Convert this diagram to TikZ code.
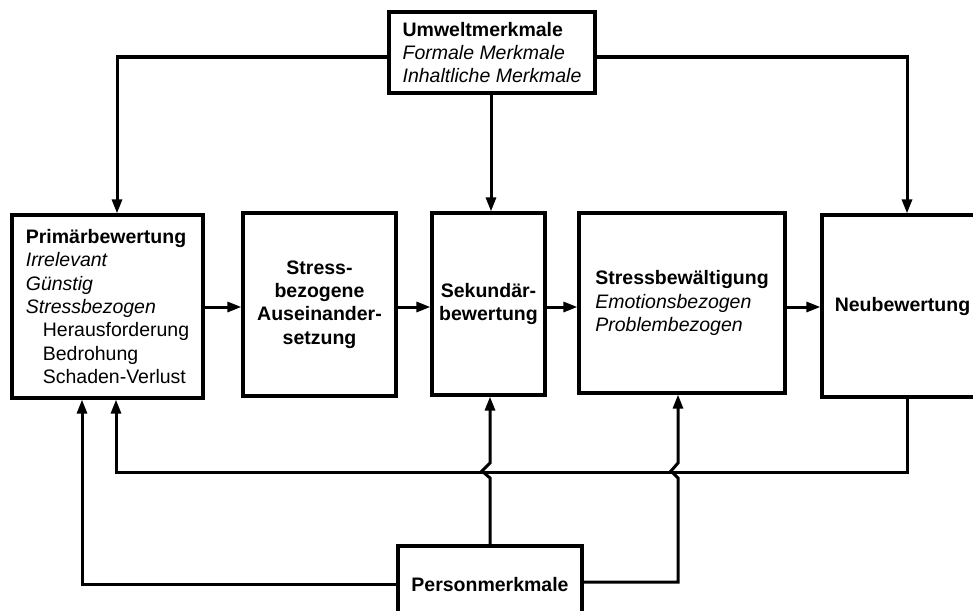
\documentclass[tikz,border=0pt]{standalone}
\usepackage{fontspec}
\setmainfont{Liberation Sans}
\usetikzlibrary{arrows.meta}
\begin{document}
\begin{tikzpicture}[x=1pt,y=-1pt,
  blk/.style={draw, line width=3.2pt, inner sep=0pt, align=left,
    font=\fontsize{19.5}{23.3}\selectfont},
  cblk/.style={blk, align=center},
  arr/.style={line width=3pt, -{Triangle[length=14pt,width=10pt]}}]
  \useasboundingbox (0,0) rectangle (973,610);
  \fill[white] (0,0) rectangle (973,610);
  \clip (0,0) rectangle (973,610);

  % boxes
  \node[blk, minimum width=206, minimum height=81] (umwelt) at (492,52.5)
    {\textbf{Umweltmerkmale}\\\textit{Formale Merkmale}\\\textit{Inhaltliche Merkmale}};
  \node[blk, minimum width=191, minimum height=183] (primaer) at (107.5,306.5)
    {\textbf{Primärbewertung}\\\textit{Irrelevant}\\\textit{Günstig}\\\textit{Stressbezogen}\\
     \hspace*{17pt}Herausforderung\\\hspace*{17pt}Bedrohung\\\hspace*{17pt}Schaden-Verlust};
  \node[cblk, minimum width=153, minimum height=183] (stress) at (319.5,304.5)
    {\textbf{Stress-}\\\textbf{bezogene}\\\textbf{Auseinander-}\\\textbf{setzung}};
  \node[cblk, minimum width=113, minimum height=182] (sekundaer) at (488.5,304)
    {\textbf{Sekundär-}\\\textbf{bewertung}};
  \node[blk, minimum width=206, minimum height=180] (bewaelt) at (682,303)
    {\textbf{Stressbewältigung}\\\textit{Emotionsbezogen}\\\textit{Problembezogen}};
  \node[cblk, minimum width=161, minimum height=182] (neu) at (902.5,306)
    {\textbf{Neubewertung}};
  \node[cblk, minimum width=184, minimum height=78] (person) at (490,585)
    {\textbf{Personmerkmale}};

  % main chain
  \draw[arr] (primaer.east |- 0,307) -- (stress.west |- 0,307);
  \draw[arr] (stress.east |- 0,307) -- (sekundaer.west |- 0,307);
  \draw[arr] (sekundaer.east |- 0,307) -- (bewaelt.west |- 0,307);
  \draw[arr] (bewaelt.east |- 0,307) -- (neu.west |- 0,307);

  % environment influences
  \draw[arr] (umwelt.west |- 0,57) -| (primaer.north -| 117,0);
  \draw[arr] (umwelt.south -| 491,0) -- (sekundaer.north -| 491,0);
  \draw[arr] (umwelt.east |- 0,57) -| (neu.north -| 907,0);

  % feedback of reappraisal
  \draw[arr] (neu.south -| 907,0) -- (907,472) -- (116,472) -- (primaer.south -| 116,0);

  % person influences
  \draw[arr] (person.west |- 0,584) -| (primaer.south -| 82,0);
  \draw[arr] (person.north -| 490,0) -- (490,478) -- (482,471) -- (490,463)
    -- (sekundaer.south -| 490,0);
  \draw[arr] (person.east |- 0,582) -- (678,582) -- (678,478) -- (671,471) -- (678,463)
    -- (bewaelt.south -| 678,0);
\end{tikzpicture}
\end{document}
